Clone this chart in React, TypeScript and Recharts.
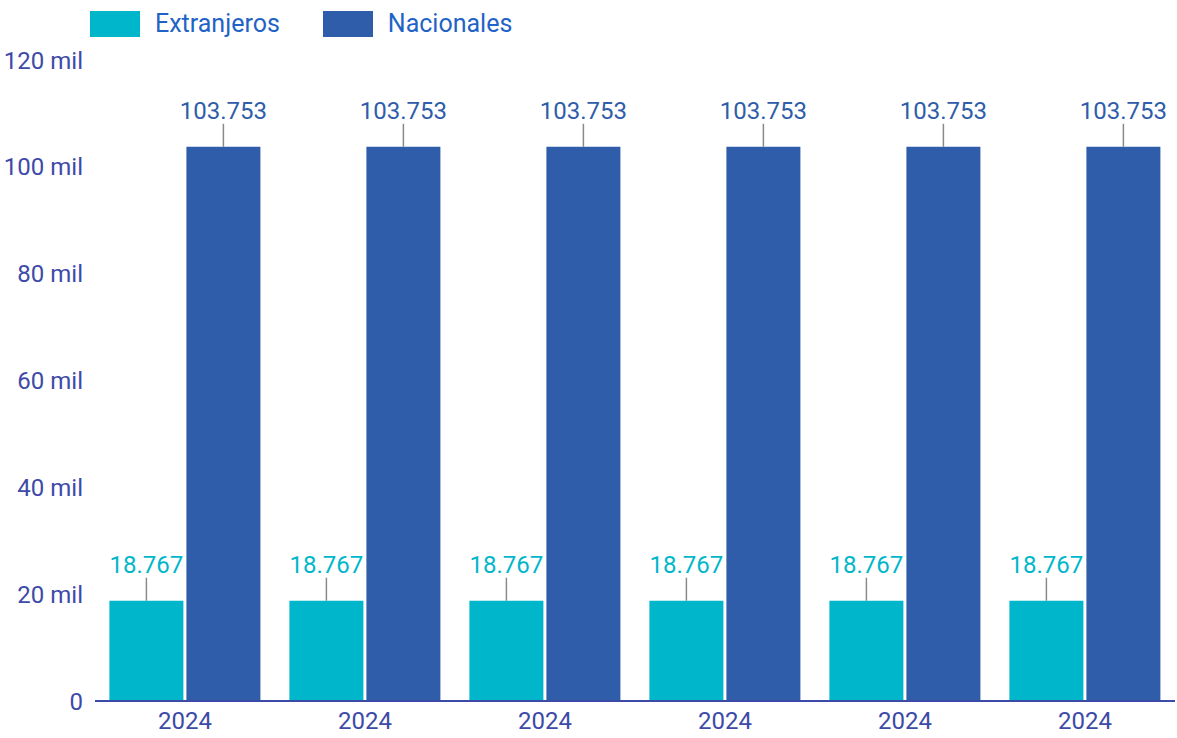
import { BarChart, Bar, XAxis, YAxis, Legend, LabelList } from "recharts";

const years = ["2024", "2024", "2024", "2024", "2024", "2024"];
const extranjeros = [18767, 18767, 18767, 18767, 18767, 18767];
const nacionales = [103753, 103753, 103753, 103753, 103753, 103753];
const yTicks = [0, 20000, 40000, 60000, 80000, 100000, 120000];

const TEAL = "#00B6CB";
const BLUE = "#2F5DA9";
const AXIS = "#3D4AA8";

const data = years.map((y, i) => ({
  year: y,
  extranjeros: extranjeros[i],
  nacionales: nacionales[i],
}));

const fmtNum = (v: number) => v.toLocaleString("de-DE");

function leaderLabel(color: string) {
  return (props: any) => {
    const { x, y, width, value } = props;
    const cx = Number(x) + Number(width) / 2;
    const top = Number(y);
    return (
      <g>
        <line x1={cx} y1={top} x2={cx} y2={top - 23} stroke="#8a8a8a" strokeWidth={1.5} />
        <text
          x={cx}
          y={top - 28}
          textAnchor="middle"
          fill={color}
          fontSize={24}
          fontFamily="Roboto"
        >
          {fmtNum(Number(value))}
        </text>
      </g>
    );
  };
}

function LegendBox() {
  const items = [
    { name: "Extranjeros", color: TEAL },
    { name: "Nacionales", color: BLUE },
  ];
  return (
    <div style={{ height: 60, display: "flex", paddingLeft: 90, paddingTop: 10, boxSizing: "border-box" }}>
      {items.map((it) => (
        <div key={it.name} style={{ display: "flex", alignItems: "center", height: 27, marginRight: 43 }}>
          <div style={{ width: 50, height: 26, background: it.color, marginRight: 15 }} />
          <span style={{ fontFamily: "Roboto", fontSize: 25, color: "#1F63C6" }}>{it.name}</span>
        </div>
      ))}
    </div>
  );
}

export default function App() {
  return (
    <div style={{ position: "fixed", left: 0, top: 0, background: "#fff" }}>
      <BarChart
        width={1177}
        height={738}
        data={data}
        margin={{ top: 0, right: 2, left: 0, bottom: 0 }}
        barCategoryGap="8%"
        barGap={3}
      >
        <Legend
          verticalAlign="top"
          align="left"
          content={() => <LegendBox />}
          wrapperStyle={{ top: 0, left: 0, width: 1177 }}
        />
        <XAxis
          dataKey="year"
          height={37}
          axisLine={{ stroke: AXIS, strokeWidth: 2 }}
          tickLine={false}
          tickMargin={5}
          tick={{ fill: AXIS, fontSize: 24, fontFamily: "Roboto" }}
        />
        <YAxis
          width={95}
          domain={[0, 120000]}
          ticks={yTicks}
          axisLine={false}
          tickLine={false}
          tickSize={0}
          tickMargin={12}
          tick={{ fill: AXIS, fontSize: 24, fontFamily: "Roboto" }}
          tickFormatter={(v: number) => (v === 0 ? "0" : `${v / 1000} mil`)}
        />
        <Bar dataKey="extranjeros" name="Extranjeros" fill={TEAL} isAnimationActive={false}>
          <LabelList dataKey="extranjeros" content={leaderLabel(TEAL)} />
        </Bar>
        <Bar dataKey="nacionales" name="Nacionales" fill={BLUE} isAnimationActive={false}>
          <LabelList dataKey="nacionales" content={leaderLabel(BLUE)} />
        </Bar>
      </BarChart>
    </div>
  );
}
